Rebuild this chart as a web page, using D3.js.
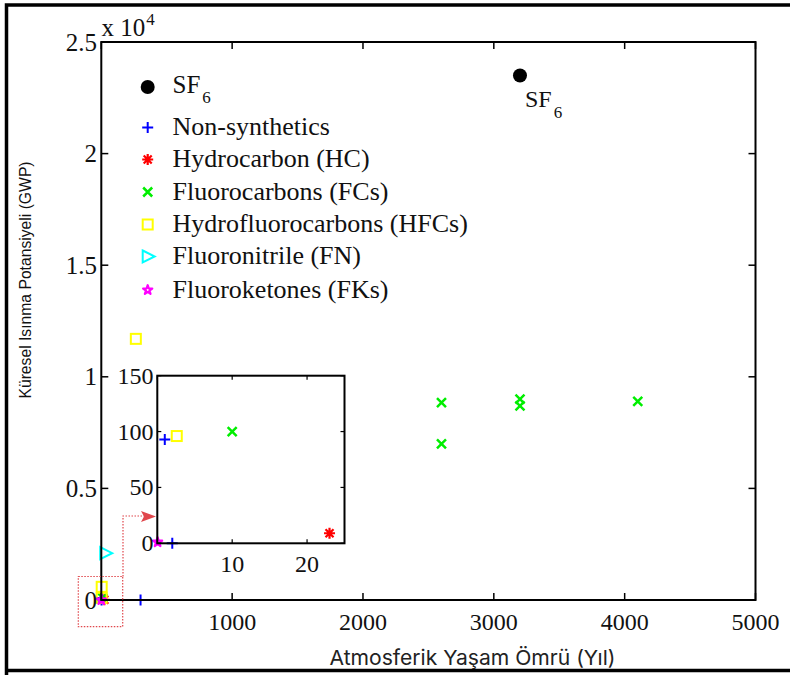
<!DOCTYPE html>
<html>
<head>
<meta charset="utf-8">
<script src="https://cdn.jsdelivr.net/npm/d3@7"></script>
<style>
  html, body { margin: 0; padding: 0; background: #fff; }
  svg { display: block; }
</style>
</head>
<body>
<svg id="chart" width="790" height="675"></svg>
<script>
// ---------------- DATA ----------------
const categories = ["SF6", "Non-synthetics", "Hydrocarbon (HC)", "Fluorocarbons (FCs)",
                    "Hydrofluorocarbons (HFCs)", "Fluoronitrile (FN)", "Fluoroketones (FKs)"];
const sf6Life = [3200];          const sf6Gwp = [23500];
const nonSynLife = [300, 1, 2];  const nonSynGwp = [1, 93, 0];
const hcLife = [23];             const hcGwp = [9];
const fcLife = [10, 2600, 2600, 3200, 3200, 4100];
const fcGwp  = [100, 8840, 7000, 9000, 8700, 8900];
const hfcLife = [2.6, 3, 264];   const hfcGwp = [96, 590, 11700];
const fnLife = [30];             const fnGwp = [2100];
const fkLife = [0.04];           const fkGwp = [1];

const xTicks = [0, 1000, 2000, 3000, 4000, 5000];
const xTickLabels = ["", "1000", "2000", "3000", "4000", "5000"];
const yTicks = [0, 5000, 10000, 15000, 20000, 25000];
const yTickLabels = ["0", "0.5", "1", "1.5", "2", "2.5"];
const insetXTicks = [0, 10, 20];
const insetXTickLabels = ["", "10", "20"];
const insetYTicks = [0, 50, 100, 150];
const insetYTickLabels = ["0", "50", "100", "150"];

const xTitle = "Atmosferik Yaşam Ömrü (Yıl)";
const yTitle = "Küresel Isınma Potansiyeli (GWP)";

// ---------------- SETUP ----------------
const svg = d3.select("#chart");
const serif = "'Liberation Serif', 'Times New Roman', serif";

const series = [
  {name: categories[0], life: sf6Life, gwp: sf6Gwp, type: "circle", color: "#000000"},
  {name: categories[1], life: nonSynLife, gwp: nonSynGwp, type: "plus", color: "#0000ff"},
  {name: categories[2], life: hcLife, gwp: hcGwp, type: "asterisk", color: "#ff0000"},
  {name: categories[3], life: fcLife, gwp: fcGwp, type: "cross", color: "#00ee00"},
  {name: categories[4], life: hfcLife, gwp: hfcGwp, type: "square", color: "#ffff00"},
  {name: categories[5], life: fnLife, gwp: fnGwp, type: "triangle", color: "#00ffff"},
  {name: categories[6], life: fkLife, gwp: fkGwp, type: "star", color: "#ff00ff"}
];

function marker(g, type, x, y, color) {
  if (type === "circle") {
    g.append("circle").attr("cx", x).attr("cy", y).attr("r", 7).attr("fill", color);
  } else if (type === "plus") {
    const s = 5.5;
    g.append("path").attr("d", `M${x - s},${y}H${x + s}M${x},${y - s}V${y + s}`)
      .attr("stroke", color).attr("stroke-width", 2).attr("fill", "none");
  } else if (type === "cross") {
    const s = 4.5;
    g.append("path").attr("d", `M${x - s},${y - s}L${x + s},${y + s}M${x - s},${y + s}L${x + s},${y - s}`)
      .attr("stroke", color).attr("stroke-width", 2.5).attr("fill", "none");
  } else if (type === "asterisk") {
    const s = 5.5, d = 4;
    g.append("path").attr("d",
      `M${x - s},${y}H${x + s}M${x},${y - s}V${y + s}M${x - d},${y - d}L${x + d},${y + d}M${x - d},${y + d}L${x + d},${y - d}`)
      .attr("stroke", color).attr("stroke-width", 2.2).attr("fill", "none");
  } else if (type === "square") {
    const s = 5;
    g.append("rect").attr("x", x - s).attr("y", y - s).attr("width", 2 * s).attr("height", 2 * s)
      .attr("stroke", color).attr("stroke-width", 2).attr("fill", "none");
  } else if (type === "triangle") {
    g.append("path").attr("d", `M${x - 5},${y - 6}L${x + 7},${y}L${x - 5},${y + 6}Z`)
      .attr("stroke", color).attr("stroke-width", 2).attr("fill", "none");
  } else if (type === "star") {
    g.append("path").attr("d", d3.symbol(d3.symbolStar).size(26)())
      .attr("transform", `translate(${x},${y})`)
      .attr("stroke", color).attr("stroke-width", 2.2).attr("stroke-linejoin", "round").attr("fill", "none");
  }
}

// ---------------- OUTER FRAME ----------------
svg.append("path").attr("d", "M6.5,700V5H800M6.5,670.5H800")
  .attr("stroke", "#000").attr("stroke-width", 3.5).attr("fill", "none");

// ---------------- MAIN AXES ----------------
const x = d3.scaleLinear().domain([0, 5000]).range([101.3, 755.5]);
const y = d3.scaleLinear().domain([0, 25000]).range([600, 42]);
const main = svg.append("g");

// data
series.forEach(s => {
  s.life.forEach((v, i) => marker(main, s.type, x(v), y(s.gwp[i]), s.color));
});

// box
main.append("rect").attr("x", x(0)).attr("y", y(25000))
  .attr("width", x(5000) - x(0)).attr("height", y(0) - y(25000))
  .attr("fill", "none").attr("stroke", "#000").attr("stroke-width", 2);

const tl = 7;
xTicks.forEach((t, i) => {
  main.append("line").attr("x1", x(t)).attr("x2", x(t)).attr("y1", y(0)).attr("y2", y(0) - tl)
    .attr("stroke", "#000").attr("stroke-width", 1.5);
  main.append("line").attr("x1", x(t)).attr("x2", x(t)).attr("y1", y(25000)).attr("y2", y(25000) + tl)
    .attr("stroke", "#000").attr("stroke-width", 1.5);
  main.append("text").attr("x", x(t)).attr("y", 629.5).attr("text-anchor", "middle")
    .attr("font-family", serif).attr("font-size", 24).attr("fill", "#111").text(xTickLabels[i]);
});
yTicks.forEach((t, i) => {
  main.append("line").attr("x1", x(0)).attr("x2", x(0) + tl).attr("y1", y(t)).attr("y2", y(t))
    .attr("stroke", "#000").attr("stroke-width", 1.5);
  main.append("line").attr("x1", x(5000)).attr("x2", x(5000) - tl).attr("y1", y(t)).attr("y2", y(t))
    .attr("stroke", "#000").attr("stroke-width", 1.5);
  main.append("text").attr("x", 97).attr("y", y(t) + 8.5).attr("text-anchor", "end")
    .attr("font-family", serif).attr("font-size", 25).attr("fill", "#111").text(yTickLabels[i]);
});

// exponent label
const expo = main.append("text").attr("x", 101.5).attr("y", 35.5)
  .attr("font-family", serif).attr("font-size", 25).attr("fill", "#111");
expo.append("tspan").text("x 10");
expo.append("tspan").attr("font-size", 17).attr("dy", -11).attr("dx", 1).text("4");

// SF6 point label
const sfl = main.append("text").attr("x", x(sf6Life[0]) + 5).attr("y", 106.5)
  .attr("font-family", serif).attr("font-size", 24).attr("fill", "#111");
sfl.append("tspan").text("SF");
sfl.append("tspan").attr("font-size", 17).attr("dy", 11).attr("dx", 2).text("6");

// axis titles
main.append("text").attr("x", 329.5).attr("y", 665)
  .attr("font-family", "Inter, 'Open Sans', sans-serif").attr("font-size", 20.5).attr("fill", "#222")
  .attr("textLength", 286).attr("lengthAdjust", "spacingAndGlyphs")
  .text(xTitle);

main.append("text").attr("transform", "translate(30.5,280) rotate(-90)")
  .attr("text-anchor", "middle")
  .attr("font-family", "'Liberation Sans', Arial, sans-serif").attr("font-size", 15.7).attr("fill", "#111")
  .text(yTitle);

// ---------------- LEGEND ----------------
const legY = [87, 127.5, 159.5, 192, 224.5, 256.5, 290];
const leg = svg.append("g");
series.forEach((s, i) => {
  marker(leg, s.type, 147.7, legY[i], s.color);
  const t = leg.append("text").attr("x", 172.5).attr("y", legY[i] + (i === 0 ? 6 : 7.5))
    .attr("font-family", serif).attr("font-size", 26).attr("fill", "#111");
  if (i === 0) {
    t.attr("font-size", 25);
    t.append("tspan").text("SF");
    t.append("tspan").attr("font-size", 17).attr("dy", 10).attr("dx", 2).text("6");
  } else {
    t.text(s.name);
  }
});

// ---------------- RED ANNOTATION ----------------
const red = "#e0474c";
svg.append("rect").attr("x", 78.3).attr("y", 576.5).attr("width", 44.4).attr("height", 50.2)
  .attr("fill", "none").attr("stroke", red).attr("stroke-width", 1.2).attr("stroke-dasharray", "1.5,1.5");
svg.append("path").attr("d", "M123,576.5V516H144")
  .attr("fill", "none").attr("stroke", red).attr("stroke-width", 1.2).attr("stroke-dasharray", "1.5,1.5");
svg.append("path").attr("d", "M141,511L156,516.5L141,522L144,516.5Z").attr("fill", red);

// ---------------- INSET ----------------
const ix = d3.scaleLinear().domain([0, 25]).range([157.3, 344.5]);
const iy = d3.scaleLinear().domain([0, 150]).range([543.3, 375.7]);
const inset = svg.append("g");
inset.append("rect").attr("x", ix(0)).attr("y", iy(150))
  .attr("width", ix(25) - ix(0)).attr("height", iy(0) - iy(150)).attr("fill", "#fff");

series.forEach(s => {
  s.life.forEach((v, i) => {
    if (v <= 25 && s.gwp[i] <= 150) marker(inset, s.type, ix(v), iy(s.gwp[i]), s.color);
  });
});

inset.append("rect").attr("x", ix(0)).attr("y", iy(150))
  .attr("width", ix(25) - ix(0)).attr("height", iy(0) - iy(150))
  .attr("fill", "none").attr("stroke", "#000").attr("stroke-width", 2);

const itl = 4;
insetXTicks.forEach((t, i) => {
  inset.append("line").attr("x1", ix(t)).attr("x2", ix(t)).attr("y1", iy(0)).attr("y2", iy(0) - itl)
    .attr("stroke", "#000").attr("stroke-width", 1.2);
  inset.append("line").attr("x1", ix(t)).attr("x2", ix(t)).attr("y1", iy(150)).attr("y2", iy(150) + itl)
    .attr("stroke", "#000").attr("stroke-width", 1.2);
  inset.append("text").attr("x", ix(t)).attr("y", 571.5).attr("text-anchor", "middle")
    .attr("font-family", serif).attr("font-size", 24).attr("fill", "#111").text(insetXTickLabels[i]);
});
insetYTicks.forEach((t, i) => {
  inset.append("line").attr("x1", ix(0)).attr("x2", ix(0) + itl).attr("y1", iy(t)).attr("y2", iy(t))
    .attr("stroke", "#000").attr("stroke-width", 1.2);
  inset.append("line").attr("x1", ix(25)).attr("x2", ix(25) - itl).attr("y1", iy(t)).attr("y2", iy(t))
    .attr("stroke", "#000").attr("stroke-width", 1.2);
  inset.append("text").attr("x", 153.5).attr("y", iy(t) + 8).attr("text-anchor", "end")
    .attr("font-family", serif).attr("font-size", 24).attr("fill", "#111").text(insetYTickLabels[i]);
});
</script>
</body>
</html>
